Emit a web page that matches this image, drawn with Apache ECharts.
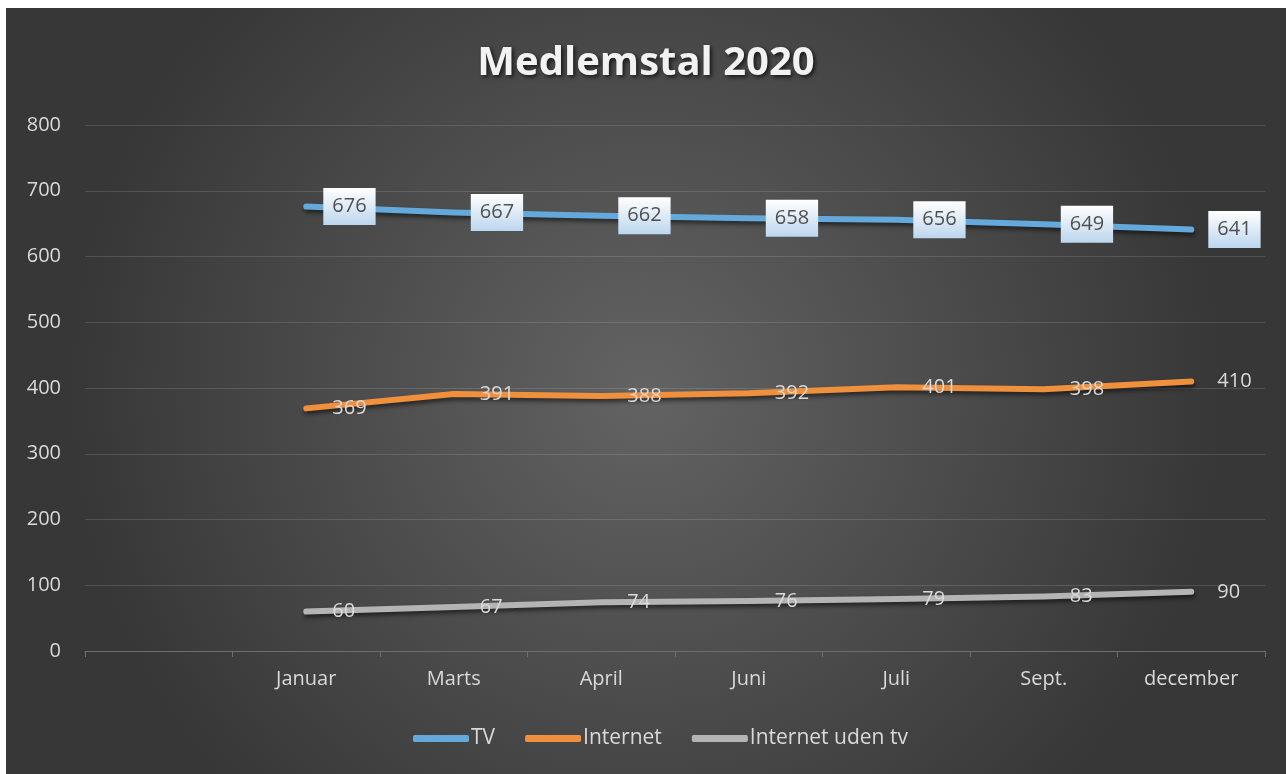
<!DOCTYPE html>
<html>
<head>
<meta charset="utf-8">
<script src="https://cdn.jsdelivr.net/npm/echarts@6/dist/echarts.min.js"></script>
<style>
  html, body { margin: 0; padding: 0; background: #ffffff; }
  #chart { position: absolute; left: 6px; top: 8px; width: 1280px; height: 766px; }
</style>
</head>
<body>
<div id="chart"></div>
<script>
const titleText = 'Medlemstal 2020';
const categories = ['', 'Januar', 'Marts', 'April', 'Juni', 'Juli', 'Sept.', 'december'];
const tvValues = [null, 676, 667, 662, 658, 656, 649, 641];
const internetValues = [null, 369, 391, 388, 392, 401, 398, 410];
const udenTvValues = [null, 60, 67, 74, 76, 79, 83, 90];
const seriesNames = ['TV', 'Internet', 'Internet uden tv'];

const FONT = '"Open Sans", "Noto Sans", sans-serif';
const colors = ['#65a9dc', '#f08f3c', '#b4b4b4'];

const chart = echarts.init(document.getElementById('chart'));

function lineSeries(name, data, color, label) {
  return {
    name: name,
    type: 'line',
    data: data,
    symbol: 'circle',
    symbolSize: 0.1,
    itemStyle: { color: color },
    lineStyle: {
      width: 6, color: color, cap: 'round', join: 'round',
      shadowColor: 'rgba(0,0,0,0.55)', shadowBlur: 4, shadowOffsetY: 3, shadowOffsetX: 1
    },
    label: label,
    emphasis: { disabled: true },
    animation: false
  };
}

const plainLabel = {
  show: true, position: 'right', distance: 26,
  color: '#d9d9d9', fontFamily: FONT, fontSize: 20
};

chart.setOption({
  backgroundColor: {
    type: 'radial', x: 0.5, y: 0.5, r: 0.75,
    colorStops: [
      { offset: 0, color: '#636363' },
      { offset: 1, color: '#373737' }
    ]
  },
  color: colors,
  title: {
    text: titleText,
    left: 'center',
    top: 31,
    textStyle: {
      color: '#f2f2f2', fontFamily: FONT, fontWeight: 'bold', fontSize: 40,
      textShadowColor: 'rgba(0,0,0,0.7)', textShadowBlur: 4, textShadowOffsetX: 2, textShadowOffsetY: 2
    }
  },
  grid: { left: 79, right: 21, top: 117, bottom: 123, containLabel: false },
  legend: {
    bottom: 20,
    left: 402,
    itemWidth: 56,
    itemHeight: 7,
    itemGap: 30,
    icon: 'roundRect',
    textStyle: { color: '#d9d9d9', fontFamily: FONT, fontSize: 21, padding: [0, 0, 0, -3] },
    data: seriesNames
  },
  xAxis: {
    type: 'category',
    data: categories,
    boundaryGap: true,
    axisLine: { lineStyle: { color: '#6e6e6e', width: 1 } },
    axisTick: { show: true, length: 6, lineStyle: { color: '#6e6e6e' } },
    axisLabel: { color: '#d9d9d9', fontFamily: FONT, fontSize: 20, margin: 18 },
    splitLine: { show: false }
  },
  yAxis: {
    type: 'value',
    min: 0, max: 800, interval: 100,
    axisLine: { show: false },
    axisTick: { show: false },
    axisLabel: { color: '#d9d9d9', fontFamily: FONT, fontSize: 20, margin: 24 },
    splitLine: { lineStyle: { color: 'rgba(255,255,255,0.13)', width: 1 } }
  },
  series: [
    lineSeries(seriesNames[0], tvValues, colors[0], {
      show: true, position: 'right', distance: 17,
      color: '#505050', fontFamily: FONT, fontSize: 20,
      padding: [9, 9, 8, 9],
      backgroundColor: {
        type: 'linear', x: 0, y: 0, x2: 0, y2: 1,
        colorStops: [
          { offset: 0, color: '#ffffff' },
          { offset: 1, color: '#bcd6ee' }
        ]
      }
    }),
    lineSeries(seriesNames[1], internetValues, colors[1], plainLabel),
    lineSeries(seriesNames[2], udenTvValues, colors[2], plainLabel)
  ]
});
</script>
</body>
</html>
